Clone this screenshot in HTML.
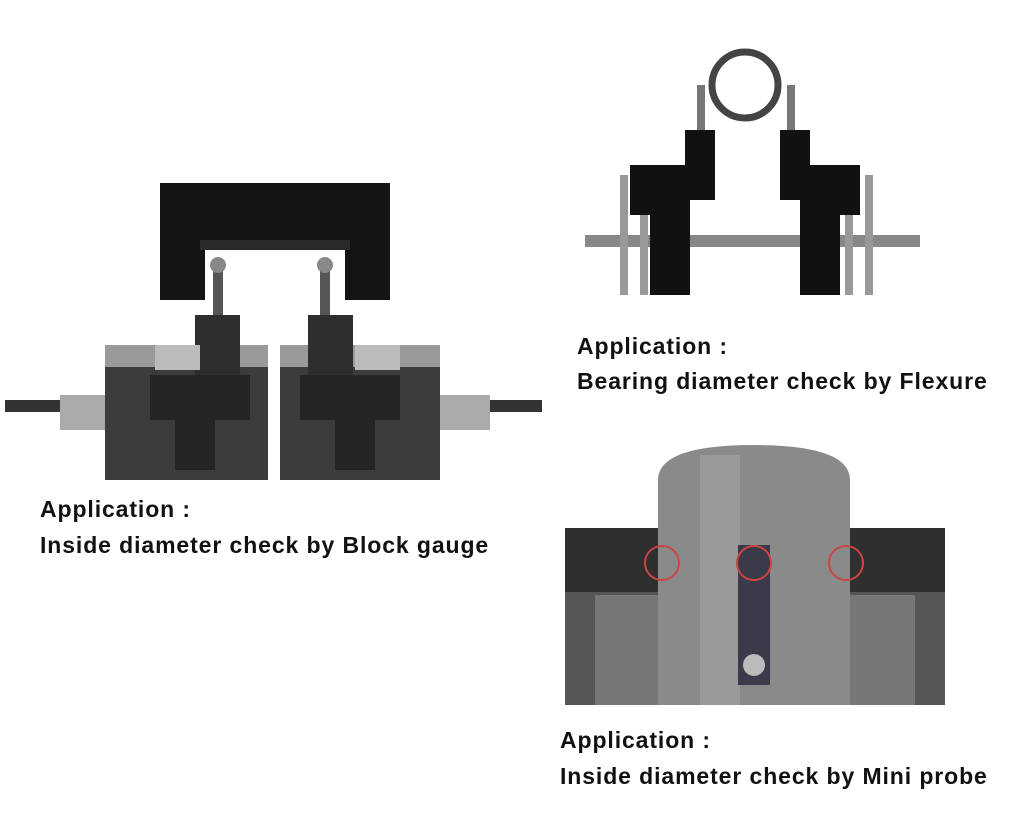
<!DOCTYPE html>
<html><head><meta charset="utf-8"><style>
body{margin:0;width:1024px;height:840px;background:#fff;position:relative;overflow:hidden;font-family:"Liberation Sans",Arial,sans-serif}
.a{position:absolute}
.t{position:absolute;font-weight:bold;font-size:23px;letter-spacing:0.9px;color:#111;white-space:nowrap}
</style></head><body>
<svg class="a" style="left:0;top:0" width="1024" height="840">
<path d="M160 183H390V300H345V245H205V300H160Z" fill="#141414"/>
<rect x="200" y="240" width="150" height="10" fill="#2a2a2a"/>
<rect x="213" y="270" width="10" height="65" fill="#555"/><circle cx="218" cy="265" r="8" fill="#888"/>
<rect x="320" y="270" width="10" height="65" fill="#555"/><circle cx="325" cy="265" r="8" fill="#888"/>
<rect x="5" y="400" width="100" height="12" fill="#333"/>
<rect x="60" y="395" width="50" height="35" fill="#aaa"/>
<rect x="440" y="400" width="102" height="12" fill="#333"/>
<rect x="435" y="395" width="55" height="35" fill="#aaa"/>
<rect x="105" y="355" width="163" height="125" fill="#3c3c3c"/>
<rect x="105" y="345" width="163" height="22" fill="#9a9a9a"/>
<rect x="195" y="315" width="45" height="60" fill="#2e2e2e"/>
<rect x="155" y="345" width="45" height="25" fill="#bbb"/>
<path d="M150 375H250V420H215V470H175V420H150Z" fill="#252525"/>
<rect x="280" y="355" width="160" height="125" fill="#3c3c3c"/>
<rect x="280" y="345" width="160" height="22" fill="#9a9a9a"/>
<rect x="308" y="315" width="45" height="60" fill="#2e2e2e"/>
<rect x="355" y="345" width="45" height="25" fill="#bbb"/>
<path d="M300 375H400V420H375V470H335V420H300Z" fill="#252525"/>
<circle cx="745" cy="85" r="33" fill="none" stroke="#444" stroke-width="7"/>
<rect x="697" y="85" width="8" height="60" fill="#777"/><rect x="787" y="85" width="8" height="60" fill="#777"/>
<rect x="585" y="235" width="335" height="12" fill="#888"/>
<rect x="620" y="175" width="8" height="120" fill="#999"/><rect x="640" y="175" width="8" height="120" fill="#999"/>
<rect x="845" y="175" width="8" height="120" fill="#999"/><rect x="865" y="175" width="8" height="120" fill="#999"/>
<path d="M685 130H715V200H690V295H650V215H630V165H685Z" fill="#111"/>
<path d="M780 130H810V165H860V215H840V295H800V200H780Z" fill="#111"/>
<rect x="565" y="590" width="380" height="115" fill="#555"/>
<rect x="595" y="595" width="70" height="110" fill="#777"/>
<rect x="845" y="595" width="70" height="110" fill="#777"/>
<rect x="565" y="528" width="380" height="64" fill="#2f2f2f"/>
<path d="M658 705V480Q658 445 754 445Q850 445 850 480V705Z" fill="#8a8a8a"/>
<rect x="700" y="455" width="40" height="250" fill="#a5a5a5" opacity=".6"/>
<rect x="738" y="545" width="32" height="140" fill="#3a3a4a"/>
<circle cx="754" cy="665" r="11" fill="#bbb"/>
<circle cx="662" cy="563" r="17" fill="none" stroke="#c44" stroke-width="2"/>
<circle cx="754" cy="563" r="17" fill="none" stroke="#c44" stroke-width="2"/>
<circle cx="846" cy="563" r="17" fill="none" stroke="#c44" stroke-width="2"/>
</svg>
<div class="t" style="left:577px;top:333px">Application :</div>
<div class="t" style="left:577px;top:368px">Bearing diameter check by Flexure</div>
<div class="t" style="left:40px;top:496px">Application :</div>
<div class="t" style="left:40px;top:532px">Inside diameter check by Block gauge</div>
<div class="t" style="left:560px;top:727px">Application :</div>
<div class="t" style="left:560px;top:763px">Inside diameter check by Mini probe</div>
</body></html>
